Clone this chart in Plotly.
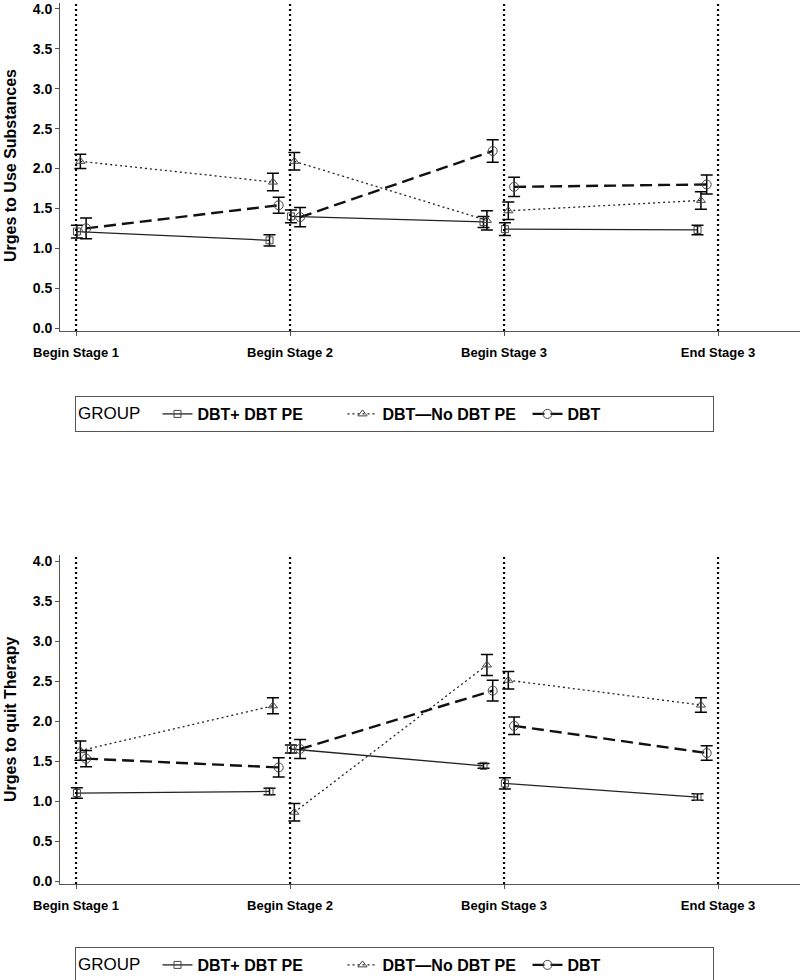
import plotly.graph_objects as go

# x axis: stage boundaries
stage_ticks = [1, 2, 3, 4]
stage_labels = ["Begin Stage 1", "Begin Stage 2", "Begin Stage 3", "End Stage 3"]

# assessment times: start and end of each of the 3 stages
times = [1.0, 1.9, 2.0, 2.9, 3.0, 3.9]

groups = ["DBT+ DBT PE", "DBT\u2014No DBT PE", "DBT"]

# Urges to Use Substances (mean, error)
subst_pe = [1.21, 1.10, 1.40, 1.33, 1.24, 1.23]
subst_pe_err = [0.08, 0.07, 0.08, 0.07, 0.08, 0.06]
subst_nope = [2.09, 1.83, 2.09, 1.35, 1.47, 1.60]
subst_nope_err = [0.09, 0.11, 0.11, 0.12, 0.11, 0.11]
subst_dbt = [1.25, 1.54, 1.39, 2.22, 1.77, 1.80]
subst_dbt_err = [0.13, 0.10, 0.12, 0.14, 0.12, 0.12]

# Urges to quit Therapy (mean, error)
quit_pe = [1.10, 1.12, 1.65, 1.44, 1.22, 1.05]
quit_pe_err = [0.065, 0.04, 0.05, 0.03, 0.07, 0.04]
quit_nope = [1.63, 2.19, 0.86, 2.70, 2.51, 2.20]
quit_nope_err = [0.12, 0.10, 0.11, 0.13, 0.11, 0.09]
quit_dbt = [1.53, 1.42, 1.65, 2.38, 1.94, 1.60]
quit_dbt_err = [0.10, 0.12, 0.12, 0.13, 0.11, 0.09]

FONT = "Liberation Sans, Arial, sans-serif"
dodge = [0.004, 0.02, 0.047]
styles = [
    dict(line=dict(color="#222", width=1.3),
         marker=dict(symbol="square-open", size=7, color="#444", line=dict(width=1))),
    dict(line=dict(color="#222", width=1.3, dash="2px,3px"),
         marker=dict(symbol="triangle-up-open", size=8, color="#444", line=dict(width=1))),
    dict(line=dict(color="#111", width=2.4, dash="12px,6px"),
         marker=dict(symbol="circle-open", size=9, color="#444", line=dict(width=1))),
]


def by_stage(vals):
    # break the line between stages
    out = []
    for i in range(0, len(vals), 2):
        if out:
            out.append(None)
        out += vals[i:i + 2]
    return out


fig = go.Figure()
panels = [
    ("x", "y", "legend", [(subst_pe, subst_pe_err), (subst_nope, subst_nope_err), (subst_dbt, subst_dbt_err)]),
    ("x2", "y2", "legend2", [(quit_pe, quit_pe_err), (quit_nope, quit_nope_err), (quit_dbt, quit_dbt_err)]),
]
for xref, yref, leg, series in panels:
    for g, (vals, errs) in enumerate(series):
        fig.add_trace(go.Scatter(
            x=by_stage([t + dodge[g] for t in times]),
            y=by_stage(vals),
            error_y=dict(type="data", array=by_stage(errs), color="black", thickness=1.5, width=6),
            mode="lines+markers", name=groups[g], xaxis=xref, yaxis=yref, legend=leg,
            connectgaps=False, **styles[g]))
    for t in stage_ticks:
        fig.add_shape(type="line", x0=t, x1=t, xref=xref, y0=0, y1=1, yref=yref + " domain",
                      line=dict(color="black", width=2.2, dash="2px,3px"))

xcommon = dict(domain=[60 / 800, 1], range=[0.925, 4.383], tickvals=stage_ticks,
               ticktext=stage_labels, showline=True, linecolor="#555", linewidth=1,
               ticks="outside", ticklen=4, tickcolor="#555", showgrid=False, zeroline=False,
               ticklabelstandoff=5, automargin=False, ticklabeloverflow="allow",
               tickfont=dict(family=FONT, size=13, color="black", weight="bold"))
ycommon = dict(range=[-0.037, 4.075], tickvals=[0, 0.5, 1, 1.5, 2, 2.5, 3, 3.5, 4],
               tickformat=".1f", showline=True, linecolor="#555", linewidth=1,
               ticks="outside", ticklen=4, tickcolor="#555", showgrid=False, zeroline=False,
               automargin=False, ticklabeloverflow="allow",
               tickfont=dict(family=FONT, size=14, color="black", weight="bold"))

legcommon = dict(orientation="h", x=75 / 800, xanchor="left", yanchor="top",
                 bordercolor="#555", borderwidth=1, bgcolor="white",
                 entrywidth=140, entrywidthmode="pixels",
                 font=dict(family=FONT, size=16, color="black", weight="bold"),
                 title=dict(text="GROUP  ", side="left",
                            font=dict(family=FONT, size=17, color="black", weight="normal")))

title_font = dict(family=FONT, size=16, color="black", weight="bold")
fig.update_layout(
    width=800, height=980, margin=dict(l=0, r=0, t=0, b=0, autoexpand=False),
    plot_bgcolor="white", paper_bgcolor="white",
    xaxis=dict(anchor="y", **xcommon),
    xaxis2=dict(anchor="y2", **xcommon),
    yaxis=dict(domain=[1 - 331 / 980, 1 - 3 / 980], anchor="x", **ycommon),
    yaxis2=dict(domain=[1 - 884 / 980, 1 - 555 / 980], anchor="x2", **ycommon),
    legend=dict(y=1 - 396 / 980, **legcommon),
    legend2=dict(y=1 - 947 / 980, **legcommon),
    annotations=[
        dict(text="Urges to Use Substances", x=10 / 800, y=1 - 166 / 980, xref="paper", yref="paper",
             xanchor="center", yanchor="middle", textangle=-90, showarrow=False, font=title_font),
        dict(text="Urges to quit Therapy", x=10 / 800, y=1 - 720 / 980, xref="paper", yref="paper",
             xanchor="center", yanchor="middle", textangle=-90, showarrow=False, font=title_font),
    ],
)

# drop the browser's default page margin so the figure fills the window
fig.write_html("out.html", config={"displayModeBar": False},
               post_script="document.body.style.margin='0px';")
